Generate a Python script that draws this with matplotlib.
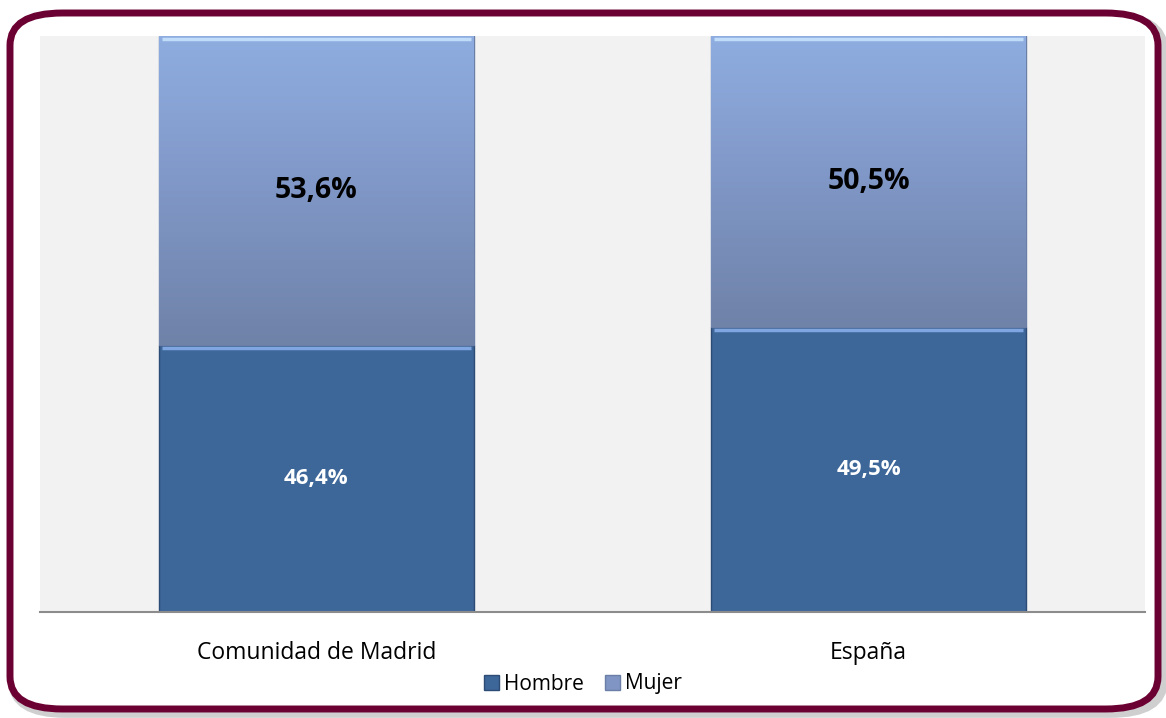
import matplotlib.pyplot as plt
import numpy as np
from matplotlib.patches import FancyBboxPatch
from matplotlib.colors import LinearSegmentedColormap

categorias = ['Comunidad de Madrid', 'España']
hombre = [46.4, 49.5]
mujer = [53.6, 50.5]
etiq_hombre = ['46,4%', '49,5%']
etiq_mujer = ['53,6%', '50,5%']

plt.rcParams['font.family'] = ['Open Sans', 'DejaVu Sans']

fig = plt.figure(figsize=(11.66, 7.18), dpi=100)
fig.patch.set_facecolor('white')

# marco redondeado con sombra
sombra = FancyBboxPatch((13 / 1166, 5 / 718), 1150 / 1166, 696 / 718,
                        boxstyle='round,pad=0,rounding_size=0.045',
                        transform=fig.transFigure, facecolor='none',
                        edgecolor='#cfcfcf', linewidth=7, zorder=0)
fig.patches.append(sombra)
marco = FancyBboxPatch((10 / 1166, 9 / 718), 1148 / 1166, 696 / 718,
                       boxstyle='round,pad=0,rounding_size=0.045',
                       transform=fig.transFigure, facecolor='white',
                       edgecolor='#6b0033', linewidth=5, zorder=1)
fig.patches.append(marco)

ax = fig.add_axes([40 / 1166, 1 - 612 / 718, 1105 / 1166, 576 / 718])
ax.set_facecolor('#f2f2f2')
ax.set_zorder(2)

x = np.arange(len(categorias))
w = 0.57
b1 = ax.bar(x, hombre, width=w, color='#3d6699', edgecolor='#2c4c75',
            linewidth=1, zorder=2, label='Hombre')
b2 = ax.bar(x, mujer, width=w, bottom=hombre, color='#8095c3',
            edgecolor='#6a7ea6', linewidth=1, zorder=2, label='Mujer')

# degradado en la serie Mujer
cmap = LinearSegmentedColormap.from_list(
    'muj', [(0, '#6f82a8'), (0.55, '#8199c9'), (1, '#8fade0')])
grad = np.linspace(0, 1, 256).reshape(-1, 1)
for rect in b2:
    x0, y0 = rect.get_x(), rect.get_y()
    im = ax.imshow(grad, cmap=cmap, origin='lower', aspect='auto',
                   extent=[x0, x0 + rect.get_width(), y0, 100], zorder=2.5)
    im.set_clip_path(rect)
# bisel claro en el borde superior de cada segmento
for rect in list(b1) + list(b2):
    x0, top = rect.get_x(), rect.get_y() + rect.get_height()
    col = '#7fa6e0' if rect in b1 else '#c0dcf8'
    ax.plot([x0 + 0.005, x0 + rect.get_width() - 0.005], [top - 0.6, top - 0.6],
            color=col, lw=2.5, zorder=3, solid_capstyle='butt')

for i in range(len(categorias)):
    ax.text(x[i], hombre[i] / 2, etiq_hombre[i], ha='center', va='center',
            color='white', fontsize=16, fontweight='bold', zorder=4)
    ax.text(x[i], hombre[i] + mujer[i] / 2, etiq_mujer[i], ha='center',
            va='center', color='black', fontsize=20.5, fontweight='bold', zorder=4)

ax.set_xlim(-0.5, 1.5)
ax.set_ylim(0, 100)
ax.set_yticks([])
ax.set_xticks(x)
ax.set_xticklabels(categorias, fontsize=16.5)
ax.tick_params(axis='x', length=0, pad=21)
for s in ['top', 'left', 'right']:
    ax.spines[s].set_visible(False)
ax.spines['bottom'].set_color('#8c8c8c')
ax.spines['bottom'].set_linewidth(1.5)

leg = fig.legend(handles=[b1, b2], labels=['Hombre', 'Mujer'], loc='center',
                 bbox_to_anchor=(583 / 1166, 1 - 684 / 718), ncol=2,
                 frameon=False, fontsize=15, handlelength=0.7,
                 handleheight=0.7, handletextpad=0.25, columnspacing=1.0)
leg.set_zorder(3)

fig.savefig('out.png', dpi=100)
